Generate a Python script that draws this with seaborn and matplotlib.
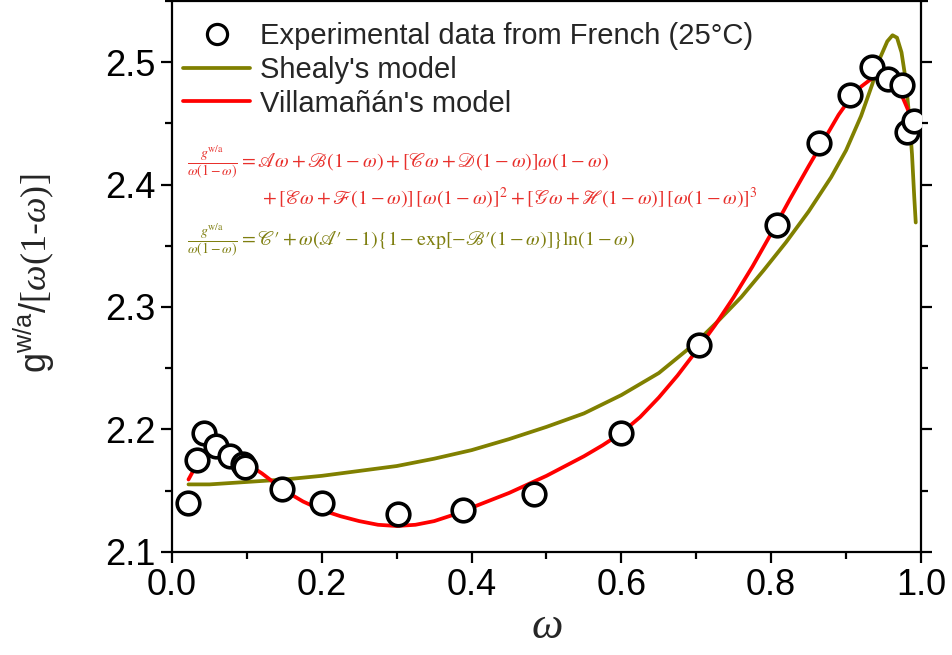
import numpy as np
import pandas as pd
import matplotlib
matplotlib.use("Agg")
import matplotlib.pyplot as plt
import seaborn as sns
from matplotlib.ticker import FormatStrFormatter, MultipleLocator
from matplotlib.lines import Line2D

# ---------------- data ----------------
exp_x = [0.021, 0.033, 0.043, 0.059, 0.077, 0.095, 0.098, 0.147, 0.200, 0.302, 0.389,
         0.483, 0.599, 0.704, 0.808, 0.864, 0.905, 0.935, 0.956, 0.975, 0.981, 0.991]
exp_y = [2.140, 2.175, 2.197, 2.186, 2.178, 2.172, 2.169, 2.151, 2.140, 2.131, 2.134,
         2.147, 2.197, 2.269, 2.367, 2.434, 2.473, 2.496, 2.486, 2.481, 2.443, 2.452]

vill_x = [0.022, 0.030, 0.040, 0.050, 0.060, 0.075, 0.090, 0.105, 0.120, 0.135, 0.150,
          0.175, 0.200, 0.225, 0.250, 0.275, 0.300, 0.325, 0.350, 0.375, 0.400, 0.425,
          0.450, 0.475, 0.500, 0.525, 0.550, 0.575, 0.600, 0.625, 0.650, 0.675, 0.700,
          0.725, 0.750, 0.775, 0.800, 0.825, 0.850, 0.870, 0.890, 0.905, 0.920, 0.935,
          0.948, 0.958, 0.967, 0.975, 0.982, 0.988]
vill_y = [2.159, 2.168, 2.175, 2.178, 2.179, 2.178, 2.175, 2.170, 2.164, 2.157, 2.150,
          2.141, 2.134, 2.129, 2.125, 2.122, 2.121, 2.122, 2.125, 2.130, 2.136, 2.142,
          2.148, 2.155, 2.162, 2.170, 2.178, 2.187, 2.197, 2.210, 2.226, 2.244, 2.264,
          2.285, 2.308, 2.333, 2.360, 2.388, 2.415, 2.436, 2.457, 2.470, 2.480, 2.487,
          2.489, 2.487, 2.481, 2.472, 2.462, 2.452]

shea_x = [0.022, 0.050, 0.100, 0.150, 0.200, 0.250, 0.300, 0.350, 0.400, 0.450, 0.500,
          0.550, 0.600, 0.650, 0.700, 0.730, 0.760, 0.790, 0.820, 0.850, 0.880, 0.900,
          0.920, 0.935, 0.945, 0.955, 0.962, 0.968, 0.974, 0.979, 0.984, 0.988, 0.991,
          0.993]
shea_y = [2.155, 2.155, 2.157, 2.159, 2.162, 2.166, 2.170, 2.176, 2.183, 2.192, 2.202,
          2.213, 2.228, 2.246, 2.271, 2.289, 2.308, 2.330, 2.353, 2.378, 2.406, 2.428,
          2.456, 2.482, 2.503, 2.517, 2.522, 2.520, 2.508, 2.488, 2.458, 2.425, 2.390,
          2.369]

x_ticks = [0.0, 0.2, 0.4, 0.6, 0.8, 1.0]
y_ticks = [2.1, 2.2, 2.3, 2.4, 2.5]

legend_labels = ["Experimental data from French (25\u00b0C)", "Shealy's model",
                 "Villama\u00f1\u00e1n's model"]

RED = "#ff0000"
OLIVE = "#808000"

# ---------------- style ----------------
sns.set_theme(style="ticks")
plt.rcParams["font.family"] = ["Liberation Sans", "DejaVu Sans"]
plt.rcParams["mathtext.fontset"] = "custom"
plt.rcParams["mathtext.rm"] = "Liberation Sans"
plt.rcParams["mathtext.sf"] = "Liberation Serif"
plt.rcParams["mathtext.it"] = "Liberation Serif:italic"
plt.rcParams["mathtext.bf"] = "Liberation Sans:bold"

fig = plt.figure(figsize=(9.53, 6.55), dpi=100)
ax = fig.add_axes([0.1805, 0.1577, 0.7859, 0.8408])

exp_df = pd.DataFrame({"x": exp_x, "y": exp_y})
vill_df = pd.DataFrame({"x": vill_x, "y": vill_y})
shea_df = pd.DataFrame({"x": shea_x, "y": shea_y})

sns.lineplot(data=shea_df, x="x", y="y", ax=ax, color=OLIVE, lw=2.7, sort=False, zorder=2)
sns.lineplot(data=vill_df, x="x", y="y", ax=ax, color=RED, lw=2.7, sort=False, zorder=3)
sns.scatterplot(data=exp_df, x="x", y="y", ax=ax, s=265, facecolor="white",
                edgecolor="black", linewidth=2.6, zorder=5)

ax.set_xlim(0, 1.0)
ax.set_ylim(2.1, 2.55)
ax.set_xticks(x_ticks)
ax.set_yticks(y_ticks)
ax.xaxis.set_minor_locator(MultipleLocator(0.1))
ax.yaxis.set_minor_locator(MultipleLocator(0.05))
ax.xaxis.set_major_formatter(FormatStrFormatter("%.1f"))
ax.yaxis.set_major_formatter(FormatStrFormatter("%.1f"))

for sp in ax.spines.values():
    sp.set_visible(True)
    sp.set_linewidth(1.6)
    sp.set_color("black")

ax.tick_params(which="both", direction="out", top=True, right=True,
               labeltop=False, labelright=False, color="black", width=1.6)
ax.tick_params(which="major", length=8, labelsize=26, pad=4, labelcolor="black")
ax.tick_params(which="minor", length=5)

ax.set_xlabel(r"$\mathit{\omega}$", fontsize=32, labelpad=2)
ax.set_ylabel(r"$\mathrm{g^{w/a}/}\mathsf{[}\mathit{\omega}\mathsf{(1}\text{-}\mathit{\omega}\mathsf{)]}$",
              fontsize=26)
ax.yaxis.set_label_coords(-0.1535, 0.506)

# legend
handles = [
    Line2D([], [], ls="none", marker="o", markersize=14.5, markerfacecolor="white",
           markeredgecolor="black", markeredgewidth=2.3),
    Line2D([], [], color=OLIVE, lw=2.7),
    Line2D([], [], color=RED, lw=2.7),
]
ax.legend(handles, legend_labels, loc="upper left", bbox_to_anchor=(0.0147, 0.962),
          frameon=False, fontsize=21, handlelength=2.3, handletextpad=0.35,
          labelspacing=0.2, borderaxespad=0.0, borderpad=0.0)

# equations
eq1 = (r"$\frac{g^{\mathrm{w/a}}}{\omega(1-\omega)}=\mathscr{A}\omega+\mathscr{B}(1-\omega)"
       r"+[\mathscr{C}\omega+\mathscr{D}(1-\omega)]\omega(1-\omega)$")
eq1b = (r"$+\,[\mathscr{E}\omega+\mathscr{F}(1-\omega)]\,[\omega(1-\omega)]^2"
        r"+[\mathscr{G}\omega+\mathscr{H}(1-\omega)]\,[\omega(1-\omega)]^3$")
eq2 = (r"$\frac{g^{\mathrm{w/a}}}{\omega(1-\omega)}=\mathscr{C}\prime+\omega(\mathscr{A}\prime-1)"
       r"\{1-\exp[-\mathscr{B}\prime(1-\omega)]\}\ln(1-\omega)$")

EQRED = "#e8302c"
EQOLIVE = "#7f7f10"
ax.text(0.020, 0.706, eq1, transform=ax.transAxes, fontsize=14.3, color=EQRED,
        ha="left", va="center", math_fontfamily="stix")
ax.text(0.120, 0.642, eq1b, transform=ax.transAxes, fontsize=14.3, color=EQRED,
        ha="left", va="center", math_fontfamily="stix")
ax.text(0.020, 0.564, eq2, transform=ax.transAxes, fontsize=14.3, color=EQOLIVE,
        ha="left", va="center", math_fontfamily="stix")

fig.savefig("out.png", dpi=100)
